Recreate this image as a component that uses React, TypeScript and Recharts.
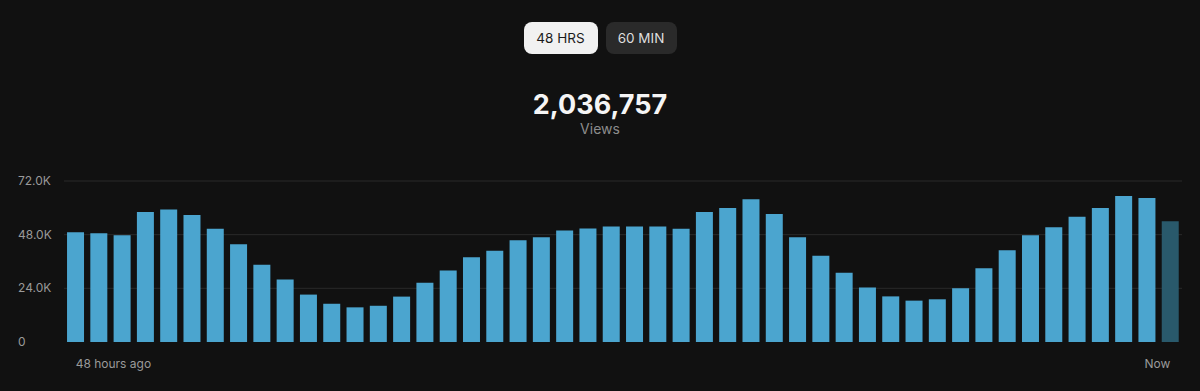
import { Bar, BarChart, CartesianGrid, Cell, XAxis, YAxis } from "recharts";

const hourSlots = [
  "48h", "47h", "46h", "45h", "44h", "43h", "42h", "41h", "40h", "39h", "38h", "37h",
  "36h", "35h", "34h", "33h", "32h", "31h", "30h", "29h", "28h", "27h", "26h", "25h",
  "24h", "23h", "22h", "21h", "20h", "19h", "18h", "17h", "16h", "15h", "14h", "13h",
  "12h", "11h", "10h", "9h", "8h", "7h", "6h", "5h", "4h", "3h", "2h", "1h"
];

const hourlyViews = [
  49100, 48600, 47700, 58100, 59300, 56800, 50700, 43700, 34600, 28000, 21200, 17100,
  15500, 16200, 20300, 26500, 32000, 37900, 40800, 45500, 46800, 49900, 50800, 51600,
  51600, 51700, 50700, 58100, 59900, 63800, 57200, 46800, 38600, 31000, 24400, 20400,
  18500, 19100, 24000, 33000, 41000, 47700, 51300, 56000, 59900, 65300, 64400, 54000
];

const yTicks = [0, 24000, 48000, 72000];
const yTickLabels = ["0", "24.0K", "48.0K", "72.0K"];
const xTickLabels = ["48 hours ago", "Now"];
const rangeOptions = ["48 HRS", "60 MIN"];
const totalViews = "2,036,757";
const totalLabel = "Views";

const chartData = hourSlots.map((slot, i) => ({ slot, views: hourlyViews[i] }));

const FONT = 'Inter, "Noto Sans", "DejaVu Sans", sans-serif';
const BAR_COLOR = "#4ba5cf";
const CURRENT_BAR_COLOR = "#29596b";

function YTick({ y, payload }: { y?: number; payload?: { value: number } }) {
  const idx = yTicks.indexOf(payload?.value ?? -1);
  return (
    <text x={18} y={y} dy={4} textAnchor="start" fill="#9a9a9a" fontSize={12} fontFamily={FONT}>
      {yTickLabels[idx] ?? ""}
    </text>
  );
}

function XTick({ x, y, payload }: { x?: number; y?: number; payload?: { value: string } }) {
  const isFirst = payload?.value === hourSlots[0];
  return (
    <text
      x={x}
      y={y}
      dy={18}
      textAnchor={isFirst ? "start" : "end"}
      fill="#9a9a9a"
      fontSize={12}
      fontFamily={FONT}
    >
      {isFirst ? xTickLabels[0] : xTickLabels[1]}
    </text>
  );
}

export default function App() {
  return (
    <div
      style={{
        position: "absolute",
        top: 0,
        left: 0,
        width: 1200,
        height: 391,
        background: "#111111",
        fontFamily: FONT,
        overflow: "hidden"
      }}
    >
      <div style={{ position: "absolute", top: 22, left: 0, width: 1200, display: "flex", justifyContent: "center", gap: 8 }}>
        {rangeOptions.map((label, i) => (
          <div
            key={label}
            style={{
              width: i === 0 ? 74 : 71,
              height: 32,
              borderRadius: 8,
              background: i === 0 ? "#f1f1f1" : "#2a2a2a",
              color: i === 0 ? "#1a1a1a" : "#dedede",
              fontSize: 13.5,
              display: "flex",
              alignItems: "center",
              justifyContent: "center"
            }}
          >
            {label}
          </div>
        ))}
      </div>
      <div
        style={{
          position: "absolute",
          top: 87,
          left: 0,
          width: 1200,
          textAlign: "center",
          color: "#f5f5f5",
          fontSize: 27,
          fontWeight: 700,
          lineHeight: "36px"
        }}
      >
        {totalViews}
      </div>
      <div
        style={{
          position: "absolute",
          top: 120,
          left: 0,
          width: 1200,
          textAlign: "center",
          color: "#8c8c8c",
          fontSize: 14,
          lineHeight: "18px"
        }}
      >
        {totalLabel}
      </div>
      <div style={{ position: "absolute", top: 170, left: 0 }}>
        <BarChart
          width={1200}
          height={221}
          data={chartData}
          margin={{ top: 11, right: 18, left: 0, bottom: 0 }}
          barCategoryGap="13%"
        >
          <CartesianGrid vertical={false} stroke="#2a2a2a" horizontalValues={[24000, 48000, 72000]} />
          <XAxis
            dataKey="slot"
            ticks={[hourSlots[0], hourSlots[hourSlots.length - 1]]}
            interval={0}
            tickLine={false}
            axisLine={false}
            height={49}
            tick={<XTick />}
          />
          <YAxis
            width={64}
            domain={[0, 72000]}
            ticks={yTicks}
            tickLine={false}
            axisLine={false}
            tick={<YTick />}
          />
          <Bar dataKey="views" isAnimationActive={false}>
            {chartData.map((d, i) => (
              <Cell key={d.slot} fill={i === chartData.length - 1 ? CURRENT_BAR_COLOR : BAR_COLOR} />
            ))}
          </Bar>
        </BarChart>
      </div>
    </div>
  );
}
